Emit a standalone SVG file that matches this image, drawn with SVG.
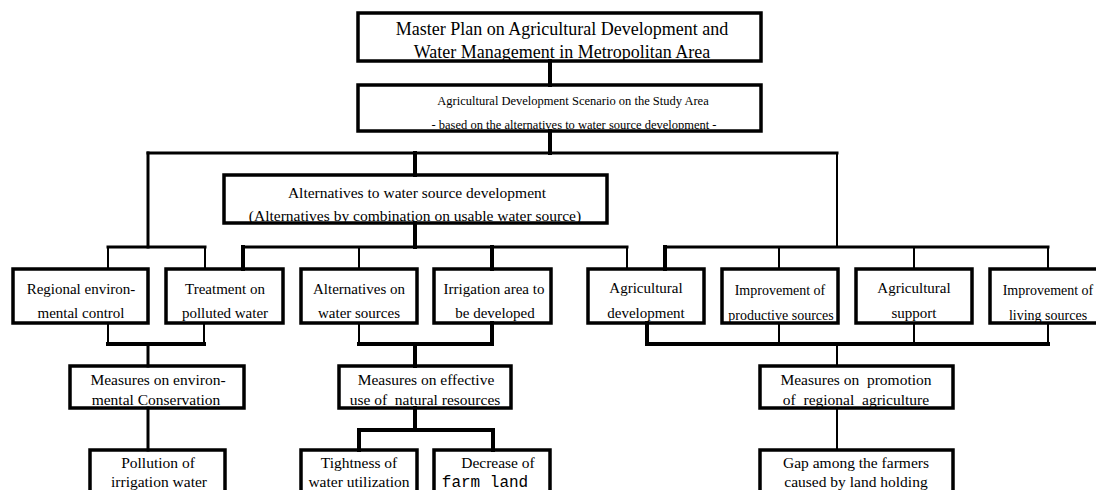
<svg xmlns="http://www.w3.org/2000/svg" width="1096" height="490" viewBox="0 0 1096 490">
<style>
  text { font-family: "Liberation Serif", "Times New Roman", serif; fill: #000; text-anchor: middle; white-space: pre; }
  .box { fill: none; stroke: #000; stroke-width: 3.5; }
  .f18 { font-size: 18px; }
  .f12 { font-size: 12.5px; }
  .f155 { font-size: 15.5px; }
  .f15 { font-size: 15px; }
  .f14 { font-size: 14px; }
  .mono { font-family: "Liberation Mono", "Courier New", monospace; font-size: 16px; }
  .c { fill: none; stroke: #000; stroke-linecap: square; }
  .w4 { stroke-width: 4; }
  .w3 { stroke-width: 3; }
  .w2 { stroke-width: 2; }
</style>
<rect x="0" y="0" width="1096" height="490" fill="#fff"/>

<g id="connectors">
  <!-- top spine -->
  <path class="c w4" d="M550 61 V85"/>
  <path class="c w4" d="M550 131 V153"/>
  <path class="c w3" d="M148 153 H837"/>
  <path class="c w4" d="M415 153 V175"/>
  <!-- left group -->
  <path class="c w3" d="M148 153 V247"/>
  <path class="c w3" d="M108 247 H205"/>
  <path class="c w2" d="M108 247 V269"/>
  <path class="c w2" d="M205 247 V269"/>
  <!-- alternatives group -->
  <path class="c w4" d="M415 223 V247"/>
  <path class="c w3" d="M243 247 H627"/>
  <path class="c w4" d="M243 247 V269"/>
  <path class="c w2" d="M359 247 V269"/>
  <path class="c w4" d="M492 247 V269"/>
  <path class="c w2" d="M627 247 V269"/>
  <!-- right group -->
  <path class="c w2" d="M837 153 V247"/>
  <path class="c w3" d="M665 247 H1048"/>
  <path class="c w4" d="M665 247 V269"/>
  <path class="c w2" d="M779 247 V269"/>
  <path class="c w2" d="M914 247 V269"/>
  <path class="c w2" d="M1048 247 V269"/>
  <!-- below row: environmental -->
  <path class="c w2" d="M108 323 V344"/>
  <path class="c w2" d="M204 323 V344"/>
  <path class="c w4" d="M108 344 H204"/>
  <path class="c w3" d="M148 344 V366"/>
  <!-- below row: natural resources -->
  <path class="c w2" d="M359 323 V344"/>
  <path class="c w4" d="M492 323 V344"/>
  <path class="c w4" d="M359 344 H492"/>
  <path class="c w4" d="M415 344 V366"/>
  <!-- below row: regional agriculture -->
  <path class="c w4" d="M647 323 V344"/>
  <path class="c w2" d="M779 323 V344"/>
  <path class="c w2" d="M914 323 V344"/>
  <path class="c w2" d="M1048 323 V344"/>
  <path class="c w4" d="M647 344 H1048"/>
  <path class="c w2" d="M837 344 V366"/>
  <!-- measures to bottom -->
  <path class="c w3" d="M148 408 V450"/>
  <path class="c w4" d="M415 408 V430"/>
  <path class="c w4" d="M359 430 H493"/>
  <path class="c w4" d="M359 430 V450"/>
  <path class="c w4" d="M493 430 V450"/>
  <path class="c w2" d="M837 408 V450"/>
</g>

<g id="master">
  <text class="f18" x="562" y="35">Master Plan on Agricultural Development and</text>
  <text class="f18" x="562" y="58">Water Management in Metropolitan Area</text>
  <rect class="box" x="358" y="13" width="403" height="48"/>
</g>

<g id="scenario">
  <text class="f12" x="573" y="105">Agricultural Development Scenario on the Study Area</text>
  <text class="f12" x="574" y="129">- based on the alternatives to water source development -</text>
  <rect class="box" x="358" y="85" width="403" height="46"/>
</g>

<g id="alternatives">
  <text class="f155" x="417" y="198">Alternatives to water source development</text>
  <text class="f155" x="415" y="221">(Alternatives by combination on usable water source)</text>
  <rect class="box" x="224" y="175" width="383" height="48"/>
</g>

<g id="regional-control">
  <text class="f15" x="81" y="294">Regional environ-</text>
  <text class="f15" x="81" y="318">mental control</text>
  <rect class="box" x="13" y="269" width="135" height="54"/>
</g>

<g id="treatment">
  <text class="f15" x="225" y="294">Treatment on</text>
  <text class="f15" x="225" y="318">polluted water</text>
  <rect class="box" x="166" y="269" width="117" height="54"/>
</g>

<g id="alt-water-sources">
  <text class="f15" x="359" y="294">Alternatives on</text>
  <text class="f15" x="359" y="318">water sources</text>
  <rect class="box" x="301" y="269" width="116" height="54"/>
</g>

<g id="irrigation-area">
  <text class="f15" x="494" y="294">Irrigation area to</text>
  <text class="f15" x="495" y="318">be developed</text>
  <rect class="box" x="434" y="269" width="117" height="54"/>
</g>

<g id="agri-development">
  <text class="f15" x="646" y="293">Agricultural</text>
  <text class="f15" x="646" y="318">development</text>
  <rect class="box" x="588" y="269" width="116" height="54"/>
</g>

<g id="productive-sources">
  <text class="f14" x="780" y="295">Improvement of</text>
  <text class="f14" x="781" y="320">productive sources</text>
  <rect class="box" x="722" y="269" width="116" height="54"/>
</g>

<g id="agri-support">
  <text class="f15" x="914" y="293">Agricultural</text>
  <text class="f15" x="914" y="318">support</text>
  <rect class="box" x="856" y="269" width="116" height="54"/>
</g>

<g id="living-sources">
  <text class="f14" x="1048" y="295">Improvement of</text>
  <text class="f14" x="1048" y="320">living sources</text>
  <rect class="box" x="990" y="269" width="120" height="54"/>
</g>

<g id="measures-environment">
  <text class="f155" x="158" y="385">Measures on environ-</text>
  <text class="f155" x="156" y="405">mental Conservation</text>
  <rect class="box" x="70" y="366" width="174" height="42"/>
</g>

<g id="measures-resources">
  <text class="f155" x="426" y="385">Measures on effective</text>
  <text class="f155" x="425" y="405">use of  natural resources</text>
  <rect class="box" x="339" y="366" width="172" height="42"/>
</g>

<g id="measures-agriculture">
  <text class="f155" x="856" y="385">Measures on  promotion</text>
  <text class="f155" x="856" y="405">of  regional  agriculture</text>
  <rect class="box" x="760" y="366" width="193" height="42"/>
</g>

<g id="pollution">
  <text class="f155" x="158" y="468">Pollution of</text>
  <text class="f155" x="159" y="487">irrigation water</text>
  <rect class="box" x="90" y="450" width="135" height="60"/>
</g>

<g id="tightness">
  <text class="f155" x="359" y="468">Tightness of</text>
  <text class="f155" x="359" y="487">water utilization</text>
  <rect class="box" x="301" y="450" width="116" height="60"/>
</g>

<g id="farm-land">
  <text class="f155" x="498" y="468">Decrease of</text>
  <text class="mono" x="485" y="487">farm land</text>
  <rect class="box" x="434" y="450" width="116" height="60"/>
</g>

<g id="land-holding">
  <text class="f155" x="856" y="468">Gap among the farmers</text>
  <text class="f155" x="856" y="487">caused by land holding</text>
  <rect class="box" x="760" y="450" width="193" height="60"/>
</g>
</svg>
